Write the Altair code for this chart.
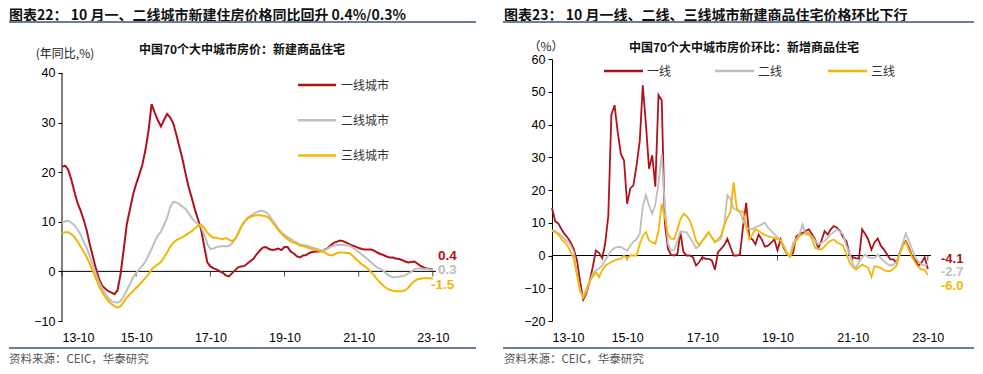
import altair as alt
import pandas as pd

# ---------------- data ----------------
months = pd.date_range("2013-10-01", periods=121, freq="MS")

tier1_yoy = [21.1, 21.3, 20.5, 18.5, 16.0, 13.9, 12.3, 10.5, 8.3, 5.5, 3.0, 0.5, -1.5, -2.9, -3.5, -4.0, -4.3, -4.6, -3.8, -0.5,
             4.5, 9.5, 12.5, 15.5, 17.6, 19.5, 21.5, 24.5, 28.5, 33.7, 32.0, 30.5, 29.2, 30.5, 31.7, 31.0, 29.8, 27.5, 25.0, 22.5,
             19.5, 17.0, 14.8, 12.5, 10.5, 8.5, 5.1, 1.8, 1.0, 0.6, 0.4, 0.0, -0.3, -0.8, -1.0, -0.4, 0.2, 0.8, 1.0, 1.1,
             1.6, 2.1, 2.6, 3.5, 4.2, 4.8, 4.9, 4.5, 4.3, 4.4, 4.6, 4.3, 4.9, 4.9, 4.0, 3.6, 3.0, 2.8, 3.2, 3.3,
             3.7, 3.9, 4.0, 4.0, 4.1, 4.4, 4.7, 5.3, 5.8, 6.0, 6.2, 6.1, 5.8, 5.5, 5.2, 5.0, 4.7, 4.5, 4.4, 4.4,
             4.4, 4.2, 3.8, 3.5, 3.3, 3.0, 2.8, 2.8, 2.6, 2.5, 2.3, 2.0, 1.8, 1.9, 2.0, 1.6, 1.1, 0.8, 0.6, 0.5, 0.4]
tier2_yoy = [9.8, 10.1, 10.2, 9.8, 9.3, 8.5, 7.5, 6.0, 4.8, 3.0, 1.2, -0.6, -2.2, -3.5, -4.5, -5.4, -6.0, -6.2, -6.3, -6.0,
             -5.0, -3.8, -2.6, -1.2, -0.3, 0.4, 1.1, 2.0, 3.3, 4.5, 6.0, 7.2, 8.0, 9.3, 10.8, 13.0, 14.0, 13.9, 13.5, 13.0,
             12.6, 11.7, 10.8, 10.0, 9.6, 9.0, 7.5, 5.5, 4.5, 4.6, 4.9, 5.0, 5.1, 5.0, 5.1, 5.6, 6.5, 7.8, 9.0, 10.0,
             10.8, 11.2, 11.6, 11.9, 12.2, 12.2, 11.9, 11.4, 10.4, 9.6, 8.6, 7.9, 7.4, 6.9, 6.5, 6.1, 5.8, 5.5, 5.3, 5.2,
             5.0, 4.8, 4.6, 4.4, 4.2, 4.3, 4.6, 5.0, 5.2, 5.3, 5.3, 5.3, 5.2, 5.2, 4.8, 4.4, 3.9, 3.4, 2.9, 2.4,
             1.8, 1.3, 0.8, 0.5, 0.1, -0.5, -0.9, -1.2, -1.2, -1.1, -1.0, -0.8, -0.4, -0.1, 0.4, 0.6, 0.6, 0.5, 0.5, 0.4, 0.3]
tier3_yoy = [7.7, 7.9, 7.9, 7.5, 6.9, 6.1, 5.0, 4.0, 2.9, 1.5, 0.0, -1.5, -3.0, -4.2, -5.2, -6.0, -6.6, -7.0, -7.3, -7.0,
             -6.2, -5.3, -4.6, -4.0, -3.3, -2.7, -2.0, -1.3, -0.6, 0.4, 1.0, 1.4, 1.9, 2.8, 3.8, 5.0, 5.8, 6.3, 6.6, 6.9,
             7.3, 7.7, 8.1, 8.7, 9.2, 9.4, 8.8, 7.8, 7.2, 6.8, 6.8, 6.6, 6.5, 6.7, 6.4, 6.1, 6.5, 7.5, 9.0, 10.0,
             10.6, 11.0, 11.2, 11.3, 11.3, 11.2, 11.1, 10.8, 10.0, 9.2, 8.3, 7.6, 7.0, 6.5, 6.0, 5.8, 5.5, 5.2, 5.1, 4.9,
             4.7, 4.5, 4.3, 4.2, 4.0, 3.8, 3.4, 3.2, 3.4, 3.7, 3.8, 3.8, 3.7, 3.7, 3.2, 2.5, 2.0, 1.4, 1.0, 0.5,
             -0.2, -0.8, -1.6, -2.3, -2.9, -3.4, -3.7, -3.9, -4.0, -4.0, -4.0, -3.8, -3.3, -2.6, -2.0, -1.6, -1.5, -1.4, -1.4, -1.4, -1.5]

tier1_mom = [14.5, 10.5, 9.8, 8.0, 6.5, 5.5, 4.0, 2.0, -1.5, -8.0, -13.5, -11.5, -8.0, -3.5, 1.5, 0.8, -0.8, 3.5, 12.0, 43.0,
             45.9, 37.8, 31.0, 29.0, 15.8, 20.5, 21.4, 27.6, 35.0, 52.0, 40.0, 26.5, 30.6, 21.0, 49.0, 47.4, 10.0, 2.0, 0.2, 0.0,
             0.5, 7.1, 1.0, 0.0, 0.0, -0.5, -3.1, -2.0, -0.5, -1.0, -1.0, -1.5, -4.3, 1.0, 2.0, 3.1, 5.1, 2.6, 0.0, 0.0,
             0.3, 9.0, 16.1, 5.4, 4.9, 3.4, 6.4, 4.9, 2.7, 3.0, 3.9, 4.9, 1.6, 4.9, 2.3, 0.5, -0.2, 0.8, 5.9, 6.5,
             6.9, 7.5, 8.0, 6.5, 4.9, 2.3, 4.5, 7.4, 6.4, 8.0, 9.0, 8.5, 7.4, 5.5, 4.4, 0.3, -0.5, -0.8, -1.0, 8.0,
             6.5, 4.9, 1.8, 4.0, 5.2, 3.0, 1.8, 0.3, -1.2, -1.2, -2.2, 0.8, 3.4, 4.4, 2.3, -0.2, -1.2, -3.1, -2.2, -0.5, -4.1]
tier2_mom = [7.5, 7.2, 6.8, 6.0, 5.0, 4.2, 3.0, 1.0, -5.5, -10.5, -12.8, -11.0, -8.0, -5.5, -4.5, -4.0, -3.0, -1.5, 0.0, 1.5,
             2.3, 2.6, 2.6, 2.0, 1.5, 3.0, 4.2, 5.1, 6.6, 15.0, 18.4, 15.3, 12.8, 15.5, 22.0, 31.0, 15.3, 3.6, 1.5, 1.8,
             4.5, 7.3, 7.2, 7.1, 5.5, 4.0, 2.2, 3.0, 4.5, 6.0, 7.1, 5.5, 4.1, 4.5, 5.1, 9.2, 18.4, 17.3, 14.3, 13.8,
             13.3, 10.7, 8.5, 8.2, 8.0, 8.7, 9.0, 9.5, 10.0, 8.5, 7.5, 6.5, 5.5, 4.6, 3.0, 1.0, -0.2, 3.9, 5.0, 6.4,
             9.5, 6.4, 6.2, 5.9, 4.5, 3.4, 3.8, 4.4, 5.5, 6.4, 7.2, 8.0, 7.2, 6.4, 3.0, 0.5, -2.5, -3.8, -2.0, -0.5,
             0.3, -0.5, -0.7, -0.7, 0.3, -0.8, -1.7, -2.5, -3.1, -2.8, -2.0, 0.5, 4.0, 6.7, 4.5, 2.0, -0.7, -1.8, -2.8, -3.1, -2.7]
tier3_mom = [7.8, 7.3, 6.5, 5.0, 4.0, 3.0, 1.0, -1.0, -6.0, -11.0, -12.8, -10.2, -8.0, -6.5, -5.1, -6.6, -4.5, -3.1, -2.5, -2.0,
             -1.5, -1.2, -1.0, 0.0, -1.0, 0.0, 0.0, 0.0, 3.5, 6.0, 7.1, 4.6, 4.0, 3.6, 7.5, 15.8, 11.7, 6.5, 5.1, 5.1,
             8.0, 11.0, 12.8, 12.0, 10.7, 8.0, 4.5, 3.1, 4.5, 5.6, 7.1, 5.5, 4.1, 5.0, 6.1, 9.2, 11.5, 13.3, 22.4, 14.3,
             13.5, 13.3, 9.0, 4.9, 6.5, 8.0, 7.5, 6.9, 6.3, 5.9, 5.6, 5.4, 5.0, 4.7, 2.7, 0.5, -0.4, 2.7, 4.5, 5.9,
             6.5, 6.8, 6.9, 5.0, 2.3, 2.0, 1.8, 2.8, 3.9, 4.5, 4.9, 4.0, 3.5, 2.9, 0.5, -2.2, -3.5, -4.3, -3.5, -2.8,
             -3.3, -3.8, -6.5, -3.3, -3.5, -3.8, -4.5, -4.8, -4.8, -4.0, -3.1, 0.3, 3.0, 4.1, 1.8, -0.5, -2.2, -3.5, -4.3, -4.3, -6.0]

left_series = ["一线城市", "二线城市", "三线城市"]
right_series = ["一线", "二线", "三线"]
colors = ["#B0121B", "#BFBFBF", "#F2B705"]
tick_dates = pd.to_datetime(["2013-10-01", "2015-10-01", "2017-10-01", "2019-10-01", "2021-10-01", "2023-10-01"])
left_end_labels = ["0.4", "0.3", "-1.5"]
right_end_labels = ["-4.1", "-2.7", "-6.0"]

left_df = pd.concat([pd.DataFrame({"date": months, "value": v, "series": s})
                     for v, s in zip([tier1_yoy, tier2_yoy, tier3_yoy], left_series)])
right_df = pd.concat([pd.DataFrame({"date": months, "value": v, "series": s})
                      for v, s in zip([tier1_mom, tier2_mom, tier3_mom], right_series)])
ticks_df = pd.DataFrame({"date": tick_dates})
one = pd.DataFrame({"k": [0]})

CJK = "Noto Sans CJK SC"
NUM = "Liberation Sans"
SEP = "#6A7E98"
xdomain = [alt.DateTime(year=2013, month=10, date=1), alt.DateTime(year=2023, month=11, date=1)]


def txt(s, x, y, size=12, weight="normal", color="#222222", font=CJK, align="left"):
    return alt.Chart(one).mark_text(text=s, font=font, fontSize=size, fontWeight=weight, color=color,
                                    align=align, baseline="middle").encode(x=alt.value(x), y=alt.value(y))


def hrule(x1, x2, y, color=SEP, width=2):
    return alt.Chart(one).mark_rule(color=color, strokeWidth=width).encode(
        x=alt.value(x1), x2=alt.value(x2), y=alt.value(y))


def panel(df, series, ydom, yvals, show_domain, ww):
    xscale = alt.Scale(domain=xdomain)
    xaxis = alt.Axis(values=list(tick_dates.strftime("%Y-%m-%d")), format="%y-%m", domain=False,
                     ticks=False, labelPadding=10, title=None, labelFontSize=12.5,
                     labelFont=NUM, labelColor="black", labelOverlap=False)
    yscale = alt.Scale(domain=ydom, nice=False, zero=False)
    yaxis = alt.Axis(values=yvals, domain=show_domain, domainColor="black", tickColor="black", tickSize=4,
                     labelPadding=3, title=None, labelFontSize=12.5, labelFont=NUM, labelColor="black",
                     grid=False, labelOverlap=False)
    zero = alt.Chart(one).mark_rule(color="black", strokeWidth=1).encode(
        y=alt.YDatum(0, scale=yscale, axis=yaxis))
    ticks = alt.Chart(ticks_df).mark_tick(orient="vertical", size=5, thickness=1, color="black",
                                          yOffset=2.5).encode(
        x=alt.X("date:T", scale=xscale, axis=xaxis), y=alt.YDatum(0, scale=yscale, axis=yaxis))
    lines = alt.Chart(df).mark_line(strokeWidth=ww).encode(
        x=alt.X("date:T", scale=xscale, axis=xaxis),
        y=alt.Y("value:Q", scale=yscale, axis=yaxis),
        color=alt.Color("series:N", scale=alt.Scale(domain=series, range=colors), legend=None),
        order=alt.Order("date:T"),
        detail="series:N",
    )
    return lines, zero, ticks, yscale, yaxis


# ---------------- left panel ----------------
l_lines, l_zero, l_ticks, l_ys, l_ya = panel(left_df, left_series, [-10, 42.8], [-10, 0, 10, 20, 30, 40], False, 2)
l_axis = alt.Chart(one).mark_rule(color="black", strokeWidth=1).encode(
    x=alt.value(0), y=alt.YDatum(-10, scale=l_ys, axis=l_ya), y2=alt.datum(40))
# invisible (white) layout anchor fixing the top edge of the drawing
anchor = alt.Chart(one).mark_rule(color="white", strokeWidth=1).encode(
    x=alt.value(100), x2=alt.value(101), y=alt.value(-50.5))

left_layers = [anchor, l_zero, l_ticks, l_axis, l_lines]
for i, (s, c) in enumerate(zip(left_series, colors)):
    yy = 27 + 35.2 * i
    left_layers.append(alt.Chart(one).mark_rule(color=c, strokeWidth=2.5).encode(
        x=alt.value(236), x2=alt.value(274), y=alt.value(yy - 1)))
    left_layers.append(txt(s, 279, yy, 12, color="#333333"))
left_layers += [
    txt(left_end_labels[0], 376, 197, 13.5, "bold", colors[0], NUM),
    txt(left_end_labels[1], 376, 211, 13.5, "bold", colors[1], NUM),
    txt(left_end_labels[2], 369, 226, 13.5, "bold", colors[2], NUM),
    txt("图表22：  10 月一、二线城市新建住房价格同比回升 0.4%/0.3%", -53, -43, 14, "bold", "#111111"),
    hrule(-53, 414, -37),
    txt("中国70个大中城市房价：新建商品住宅", 180, -9, 12, "bold", "#111111", align="center"),
    txt("(年同比,%)", 3, -5, 12, "normal", "#222222", align="center"),
    hrule(-53, 414, 289),
    txt("资料来源：CEIC，华泰研究", -53, 301, 11.5, "normal", "#555555"),
]
left = alt.layer(*left_layers).properties(width=374, height=262)

# ---------------- right panel ----------------
r_lines, r_zero, r_ticks, r_ys, r_ya = panel(right_df, right_series, [-20, 60],
                                            [-20, -10, 0, 10, 20, 30, 40, 50, 60], True, 1.8)
right_layers = [r_zero, r_ticks, r_lines]
leg_x = [52, 163, 276]
for s, c, lx in zip(right_series, colors, leg_x):
    right_layers.append(alt.Chart(one).mark_rule(color=c, strokeWidth=2.5).encode(
        x=alt.value(lx), x2=alt.value(lx + 39), y=alt.value(12)))
    right_layers.append(txt(s, lx + 43, 13, 12, color="#333333"))
right_layers += [
    txt(right_end_labels[0], 389, 200, 13, "bold", colors[0], NUM),
    txt(right_end_labels[1], 389, 213, 13, "bold", colors[1], NUM),
    txt(right_end_labels[2], 389, 227, 13, "bold", colors[2], NUM),
    txt("图表23：  10 月一线、二线、三线城市新建商品住宅价格环比下行", -48, -43, 14, "bold", "#111111"),
    hrule(-49, 422, -37),
    txt("中国70个大中城市房价环比：新增商品住宅", 192, -11, 12, "bold", "#111111", align="center"),
    txt("（%）", -6, -12, 12, "normal", "#222222", align="center"),
    hrule(-49, 422, 289),
    txt("资料来源：CEIC，华泰研究", -48, 301, 11.5, "normal", "#555555"),
]
right = alt.layer(*right_layers).properties(width=379, height=262)

chart = alt.hconcat(left, right, spacing=116, bounds="flush").properties(
    padding=0, background="white"
).configure_view(stroke=None).configure_axis(grid=False)

chart.save("out.html", embed_options={"renderer": "svg", "actions": False})
